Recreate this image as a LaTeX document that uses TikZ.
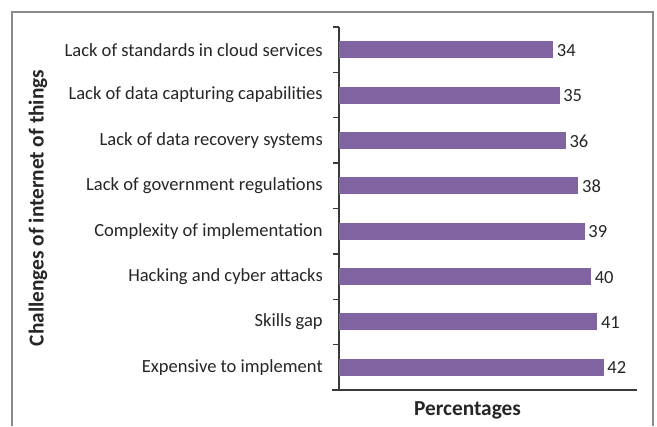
\documentclass[tikz,border=0pt]{standalone}
\usepackage{fontspec}
\setmainfont{Carlito}
\definecolor{barpurple}{HTML}{8064A2}
\definecolor{framegray}{HTML}{8A8A8A}
\definecolor{axisgray}{HTML}{3A3A3A}
\begin{document}
\begin{tikzpicture}[x=0.75pt,y=-0.75pt,
  catlabel/.style={anchor=east,inner sep=0pt,font=\fontsize{13.9}{16}\selectfont,text=black!85},
  vallabel/.style={anchor=west,inner sep=0pt,font=\fontsize{13.9}{16}\selectfont,text=black!85},
  axtitle/.style={inner sep=0pt,font=\fontsize{16}{18}\selectfont\bfseries,text=black!85},
  bar/.style={fill=barpurple,draw=none},
  axisline/.style={draw=axisgray,line width=1.1pt},
  frameline/.style={draw=framegray,line width=0.9pt}]
\useasboundingbox (0,0) rectangle (657,426);
\fill[white] (0,0) rectangle (657,426);
\draw[frameline] (12,426) -- (12,12) -- (653,12) -- (653,426);
% axes
\coordinate (ytop) at (339,27);
\coordinate (ybot) at (339,390);
\coordinate (xleft) at (332,390);
\coordinate (xright) at (637,390);
\draw[axisline] (ytop) -- (ybot);
\draw[axisline] (xleft) -- (xright);
\foreach \k in {0,...,7}{
  \draw[axisline] (333,{27+45.375*\k}) -- (339,{27+45.375*\k});
}
% bars
\foreach \v/\t [count=\i from 0] in {34/Lack of standards in cloud services,35/Lack of data capturing capabilities,36/Lack of data recovery systems,38/Lack of government regulations,39/Complexity of implementation,40/Hacking and cyber attacks,41/Skills gap,42/Expensive to implement}{
  \pgfmathsetmacro{\yc}{27+45.375*(\i+0.5)}
  \pgfmathsetmacro{\xe}{339+6.3*\v}
  \fill[bar] (339,\yc-8.5) rectangle (\xe,\yc+8.5);
  \node[catlabel] (cat\i) at (323,\yc) {\t};
  \node[vallabel] (val\i) at (\xe+3.5,\yc+0.5) {\v};
}
\node[axtitle] (xtitle) at (467.5,410) {Percentages};
\node[axtitle,rotate=90] (ytitle) at (38,208) {Challenges of internet of things};
\end{tikzpicture}
\end{document}
